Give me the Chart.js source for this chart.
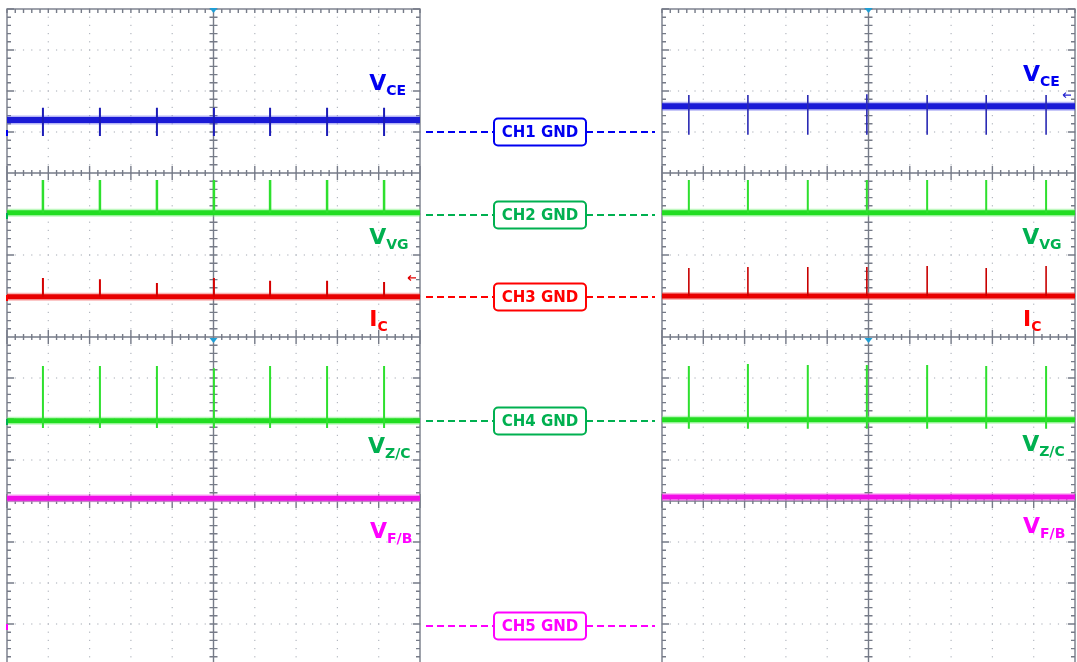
<!DOCTYPE html>
<html>
<head>
<meta charset="utf-8">
<script src="https://cdn.jsdelivr.net/npm/chart.js@4.4.1/dist/chart.umd.min.js"></script>
<style>
  html, body { margin: 0; padding: 0; overflow: hidden; background: #fff; width: 1077px; height: 662px; }
  canvas { position: absolute; top: 0; }
  #left { left: 0; }
  #right { left: 658px; }
</style>
</head>
<body>
<canvas id="left" width="658" height="666"></canvas>
<canvas id="right" width="419" height="666"></canvas>
<script>
// everything in scope divisions: 10 across, 16 down (0 = bottom of screen)
const spikeTimesL = [0.87, 2.25, 3.63, 5.01, 6.37, 7.75, 9.13];
const spikeTimesR = [0.65, 2.08, 3.53, 4.96, 6.42, 7.85, 9.30];

// CH1 VCE
const vceLevelL = 13.29;
const vceTopL = [13.59, 13.59, 13.59, 13.59, 13.59, 13.59, 13.59];
const vceBottomL = [12.90, 12.90, 12.90, 12.90, 12.90, 12.90, 12.90];
const vceLevelR = 13.63;
const vceTopR = [13.90, 13.90, 13.90, 13.92, 13.90, 13.90, 13.90];
const vceBottomR = [12.93, 12.93, 12.93, 12.93, 12.93, 12.93, 12.93];

// CH2 VVG
const vgLevelL = 11.03;
const vgTopL = [11.83, 11.83, 11.83, 11.83, 11.83, 11.83, 11.83];
const vgLevelR = 11.03;
const vgTopR = [11.83, 11.83, 11.83, 11.83, 11.83, 11.83, 11.83];

// CH3 IC
const icLevelL = 8.98;
const icTopL = [9.44, 9.41, 9.32, 9.44, 9.37, 9.37, 9.34];
const icLevelR = 9.0;
const icTopR = [9.68, 9.71, 9.71, 9.71, 9.73, 9.68, 9.73];

// CH4 VZ/C
const vzcLevelL = 5.96;
const vzcTopL = [7.29, 7.29, 7.29, 7.24, 7.29, 7.29, 7.29];
const vzcBottomL = [5.78, 5.78, 5.78, 5.78, 5.78, 5.78, 5.78];
const vzcLevelR = 5.98;
const vzcTopR = [7.29, 7.34, 7.32, 7.32, 7.32, 7.29, 7.29];
const vzcBottomR = [5.76, 5.76, 5.76, 5.76, 5.76, 5.76, 5.76];

// CH5 VF/B
const vfbLevelL = 4.07;
const vfbLevelR = 4.10;

// ground references
const gndLevels = [13, 10.98, 8.97, 5.95, 0.95];
const gndNames = ["CH1 GND", "CH2 GND", "CH3 GND", "CH4 GND", "CH5 GND"];
const gndColors = ["#0000f0", "#00b050", "#ff0000", "#00b050", "#ff00ff"];

const labelsL = [
  { main: "V", sub: "CE", color: "#0000f0", x: 8.77, y: 14.02 },
  { main: "V", sub: "VG", color: "#00b050", x: 8.77, y: 10.27 },
  { main: "I", sub: "C", color: "#ff0000", x: 8.77, y: 8.27 },
  { main: "V", sub: "Z/C", color: "#00b050", x: 8.74, y: 5.17 },
  { main: "V", sub: "F/B", color: "#ff00ff", x: 8.79, y: 3.10 }
];
const labelsR = [
  { main: "V", sub: "CE", color: "#0000f0", x: 8.74, y: 14.24 },
  { main: "V", sub: "VG", color: "#00b050", x: 8.72, y: 10.27 },
  { main: "I", sub: "C", color: "#ff0000", x: 8.74, y: 8.27 },
  { main: "V", sub: "Z/C", color: "#00b050", x: 8.72, y: 5.22 },
  { main: "V", sub: "F/B", color: "#ff00ff", x: 8.74, y: 3.22 }
];

function flat(level) {
  return [{ x: 0, y: level }, { x: 10, y: level }];
}

function spikes(times, lows, highs) {
  const pts = [];
  times.forEach((t, i) => {
    pts.push({ x: t, y: lows[i] }, { x: t, y: highs[i] }, { x: t, y: null });
  });
  return pts;
}

function same(v, n) {
  return new Array(n).fill(v);
}

function band(level, core, halo, w) {
  return [
    { data: flat(level), borderColor: halo, borderWidth: w + 3, order: 5 },
    { data: flat(level), borderColor: core, borderWidth: w, order: 4 }
  ];
}

const scopeGrid = {
  id: "scopeGrid",
  beforeDatasetsDraw(chart) {
    const { ctx, chartArea: a, scales: { x, y } } = chart;
    const px = v => x.getPixelForValue(v);
    const py = v => y.getPixelForValue(v);
    ctx.save();
    // dotted division lines
    ctx.fillStyle = "#b4b8c0";
    for (let i = 1; i < 10; i++) {
      if (i === 5) continue;
      for (let j = 0; j <= 80; j++) ctx.fillRect(px(i) - 0.6, py(j / 5) - 0.6, 1.2, 1.2);
    }
    for (let j = 1; j < 16; j++) {
      if (j % 4 === 0) continue;
      for (let i = 0; i <= 50; i++) ctx.fillRect(px(i / 5) - 0.6, py(j) - 0.6, 1.2, 1.2);
    }
    ctx.strokeStyle = "#767b88";
    ctx.lineWidth = 1.4;
    ctx.beginPath();
    // centre vertical axis
    ctx.moveTo(px(5), a.top); ctx.lineTo(px(5), a.bottom);
    for (let j = 0; j <= 80; j++) {
      const yy = py(j / 5);
      ctx.moveTo(px(5) - 4, yy); ctx.lineTo(px(5) + 4, yy);
      const len = j % 5 === 0 ? 7 : 4;
      ctx.moveTo(a.left, yy); ctx.lineTo(a.left + len, yy);
      ctx.moveTo(a.right, yy); ctx.lineTo(a.right - len, yy);
    }
    // horizontal screen axes
    [4, 8, 12].forEach(lv => {
      const yy = py(lv);
      ctx.moveTo(a.left, yy); ctx.lineTo(a.right, yy);
      for (let i = 0; i <= 50; i++) {
        const len = i % 5 === 0 ? 7 : 3;
        ctx.moveTo(px(i / 5), yy - len); ctx.lineTo(px(i / 5), yy + len);
      }
    });
    for (let i = 0; i <= 50; i++) {
      ctx.moveTo(px(i / 5), a.top); ctx.lineTo(px(i / 5), a.top + 4);
    }
    ctx.stroke();
    ctx.strokeRect(a.left, a.top, a.right - a.left, a.bottom - a.top);
    // trigger position markers
    ctx.fillStyle = "#1f9fd6";
    [a.top, py(8) + 2].forEach(yy => {
      ctx.beginPath();
      ctx.moveTo(px(5) - 4, yy - 1); ctx.lineTo(px(5) + 4, yy - 1); ctx.lineTo(px(5), yy + 4);
      ctx.closePath(); ctx.fill();
    });
    ctx.restore();
  },
  afterDatasetsDraw(chart, args, opts) {
    const { ctx, scales: { x, y } } = chart;
    ctx.save();
    ctx.textBaseline = "alphabetic";
    opts.labels.forEach(l => {
      const lx = x.getPixelForValue(l.x);
      const ly = y.getPixelForValue(l.y);
      ctx.fillStyle = l.color;
      ctx.font = "bold 22px 'DejaVu Sans'";
      ctx.fillText(l.main, lx, ly);
      const w = ctx.measureText(l.main).width;
      ctx.font = "bold 14px 'DejaVu Sans'";
      ctx.fillText(l.sub, lx + w, ly + 5);
    });
    // trigger level arrow
    if (opts.arrow) {
      const ax = chart.chartArea.right - 4;
      const ay = y.getPixelForValue(opts.arrow.level);
      ctx.strokeStyle = opts.arrow.color;
      ctx.lineWidth = 1.2;
      ctx.beginPath();
      ctx.moveTo(ax, ay); ctx.lineTo(ax - 8, ay);
      ctx.moveTo(ax - 8, ay); ctx.lineTo(ax - 5, ay - 2.5);
      ctx.moveTo(ax - 8, ay); ctx.lineTo(ax - 5, ay + 2.5);
      ctx.stroke();
    }
    ctx.restore();
  }
};

const gndMarkers = {
  id: "gndMarkers",
  afterDraw(chart) {
    const { ctx, chartArea: a, scales: { y } } = chart;
    ctx.save();
    gndLevels.forEach((lv, i) => {
      const yy = Math.round(y.getPixelForValue(lv));
      const c = gndColors[i];
      ctx.strokeStyle = c;
      ctx.lineWidth = 2;
      ctx.setLineDash([7, 4]);
      ctx.beginPath();
      ctx.moveTo(426, yy); ctx.lineTo(494, yy);
      ctx.moveTo(586, yy); ctx.lineTo(655, yy);
      ctx.stroke();
      ctx.setLineDash([]);
      ctx.fillStyle = "#fff";
      ctx.beginPath();
      ctx.roundRect(494, yy - 13.5, 92, 27, 4);
      ctx.fill(); ctx.stroke();
      ctx.fillStyle = c;
      ctx.font = "bold 15px 'DejaVu Sans'";
      ctx.textAlign = "center";
      ctx.textBaseline = "middle";
      ctx.fillText(gndNames[i], 540, yy + 1);
      // ground marker on left edge
      ctx.fillRect(a.left - 1, yy - 2, 2, 6);
    });
    ctx.restore();
  }
};

function makePanel(id, padding, datasets, labels, arrow, extra) {
  return new Chart(document.getElementById(id), {
    type: "line",
    data: { datasets: datasets },
    options: {
      responsive: false,
      devicePixelRatio: 1,
      animation: false,
      events: [],
      layout: { padding: padding },
      elements: { point: { radius: 0 }, line: { tension: 0, borderCapStyle: "butt" } },
      scales: {
        x: { type: "linear", min: 0, max: 10, display: false },
        y: { type: "linear", min: 0, max: 16, display: false }
      },
      plugins: {
        legend: { display: false },
        tooltip: { enabled: false },
        scopeGrid: { labels: labels, arrow: arrow }
      }
    },
    plugins: [scopeGrid].concat(extra)
  });
}

const n = spikeTimesL.length;

makePanel("left", { left: 7, right: 238, top: 9, bottom: 1 }, [
  ...band(vceLevelL, "#1b1bd6", "rgba(90,90,235,0.45)", 6),
  { data: spikes(spikeTimesL, vceBottomL, vceTopL), borderColor: "#1c1cb8", borderWidth: 2, order: 1 },
  ...band(vgLevelL, "#22dd22", "rgba(110,240,110,0.45)", 5),
  { data: spikes(spikeTimesL, same(vgLevelL, n), vgTopL), borderColor: "#2ee02e", borderWidth: 2.5, order: 1 },
  ...band(icLevelL, "#e80000", "rgba(245,90,90,0.45)", 5),
  { data: spikes(spikeTimesL, same(icLevelL, n), icTopL), borderColor: "#d40000", borderWidth: 2, order: 1 },
  ...band(vzcLevelL, "#22dd22", "rgba(110,240,110,0.45)", 5),
  { data: spikes(spikeTimesL, vzcBottomL, vzcTopL), borderColor: "#2ee02e", borderWidth: 2, order: 1 },
  ...band(vfbLevelL, "#f20ee6", "rgba(250,110,240,0.45)", 5)
], labelsL, { level: 9.44, color: "#e00000" }, [gndMarkers]);

makePanel("right", { left: 4, right: 2, top: 9, bottom: 1 }, [
  ...band(vceLevelR, "#1b1bd6", "rgba(90,90,235,0.45)", 6),
  { data: spikes(spikeTimesR, vceBottomR, vceTopR), borderColor: "#2a2ab4", borderWidth: 1.6, order: 1 },
  ...band(vgLevelR, "#22dd22", "rgba(110,240,110,0.45)", 5),
  { data: spikes(spikeTimesR, same(vgLevelR, n), vgTopR), borderColor: "#2ee02e", borderWidth: 2, order: 1 },
  ...band(icLevelR, "#e80000", "rgba(245,90,90,0.45)", 5),
  { data: spikes(spikeTimesR, same(icLevelR, n), icTopR), borderColor: "#c80000", borderWidth: 1.6, order: 1 },
  ...band(vzcLevelR, "#22dd22", "rgba(110,240,110,0.45)", 5),
  { data: spikes(spikeTimesR, vzcBottomR, vzcTopR), borderColor: "#2ee02e", borderWidth: 2, order: 1 },
  ...band(vfbLevelR, "#f20ee6", "rgba(250,110,240,0.45)", 5)
], labelsR, { level: 13.9, color: "#2020d0" }, []);
</script>
</body>
</html>
